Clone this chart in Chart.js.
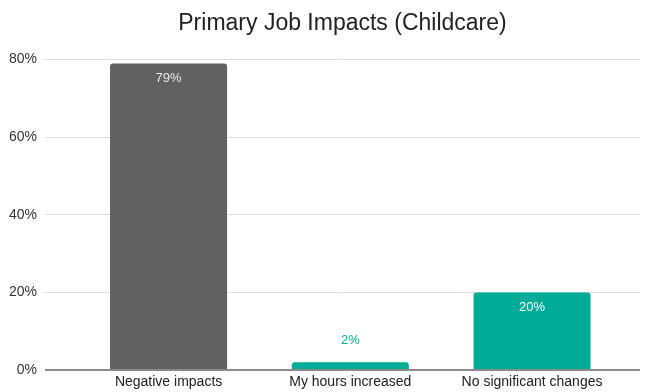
<!DOCTYPE html>
<html>
<head>
<meta charset="utf-8">
<script src="https://cdn.jsdelivr.net/npm/chart.js@4/dist/chart.umd.min.js"></script>
<style>
  html, body { margin: 0; padding: 0; background: #fff; }
  #wrap { width: 647px; height: 392px; }
</style>
</head>
<body>
<div id="wrap"><canvas id="impactChart" width="647" height="392"></canvas></div>
<script>
// --- données ---
const categories = ['Negative impacts', 'My hours increased', 'No significant changes'];
const percentValues = [79, 2, 20];
const barColors = ['#616161', '#00ac97', '#00ac97'];
const labelColors = ['#e8e8e8', '#00ac97', '#ffffff'];
const yTicks = [0, 20, 40, 60, 80];

const FONT = "'Liberation Sans', Arial, sans-serif";

// étiquettes de valeur sur les barres
const valueLabels = {
    id: 'valueLabels',
    afterDatasetsDraw(chart) {
        const ctx = chart.ctx;
        const meta = chart.getDatasetMeta(0);
        ctx.save();
        ctx.font = '13px ' + FONT;
        ctx.textAlign = 'center';
        ctx.textBaseline = 'middle';
        meta.data.forEach((bar, i) => {
            const v = percentValues[i];
            const h = bar.base - bar.y;
            ctx.fillStyle = labelColors[i];
            const y = h > 30 ? bar.y + 15 : bar.y - 22;
            ctx.fillText(v + '%', bar.x, y);
        });
        ctx.restore();
    }
};

// ligne de base plus foncée
const baseLine = {
    id: 'baseLine',
    afterDatasetsDraw(chart) {
        const { ctx, chartArea, scales } = chart;
        const y = scales.y.getPixelForValue(0);
        ctx.save();
        ctx.strokeStyle = '#8a8a8a';
        ctx.lineWidth = 2;
        ctx.beginPath();
        ctx.moveTo(chartArea.left, y);
        ctx.lineTo(chartArea.right, y);
        ctx.stroke();
        ctx.restore();
    }
};

new Chart(document.getElementById('impactChart'), {
    type: 'bar',
    data: {
        datasets: [{
            data: percentValues.map((v, i) => ({ x: i, y: v })),
            backgroundColor: barColors,
            borderRadius: { topLeft: 3, topRight: 3 },
            borderSkipped: 'bottom',
            barPercentage: 0.644,
            categoryPercentage: 1
        }]
    },
    plugins: [valueLabels, baseLine],
    options: {
        responsive: false,
        animation: false,
        layout: { padding: { right: 7, left: 0, bottom: 0 } },
        plugins: {
            legend: { display: false },
            tooltip: { enabled: false },
            title: {
                display: true,
                fullSize: false,
                text: 'Primary Job Impacts (Childcare)',
                color: '#222',
                font: { family: FONT, size: 23, weight: 'normal' },
                padding: { top: 10, bottom: 22 }
            }
        },
        scales: {
            x: {
                type: 'linear',
                offset: false,
                min: -0.68,
                max: 2.594,
                afterBuildTicks: scale => {
                    scale.ticks = categories.map((c, i) => ({ value: i }));
                },
                afterFit: scale => { scale.height = 22; },
                grid: { display: false, offset: false, drawTicks: false },
                border: { display: false },
                ticks: {
                    autoSkip: false,
                    maxRotation: 0,
                    padding: 4,
                    color: '#222',
                    font: { family: FONT, size: 14 },
                    callback: v => categories[v]
                }
            },
            y: {
                min: 0,
                max: 80,
                afterBuildTicks: scale => {
                    scale.ticks = yTicks.map(v => ({ value: v }));
                },
                afterFit: scale => { scale.width = 45; },
                grid: { color: '#dcdcdc', drawTicks: false },
                border: { display: false },
                ticks: {
                    padding: 8,
                    color: '#333',
                    font: { family: FONT, size: 14 },
                    callback: v => v + '%'
                }
            }
        }
    }
});
</script>
</body>
</html>
